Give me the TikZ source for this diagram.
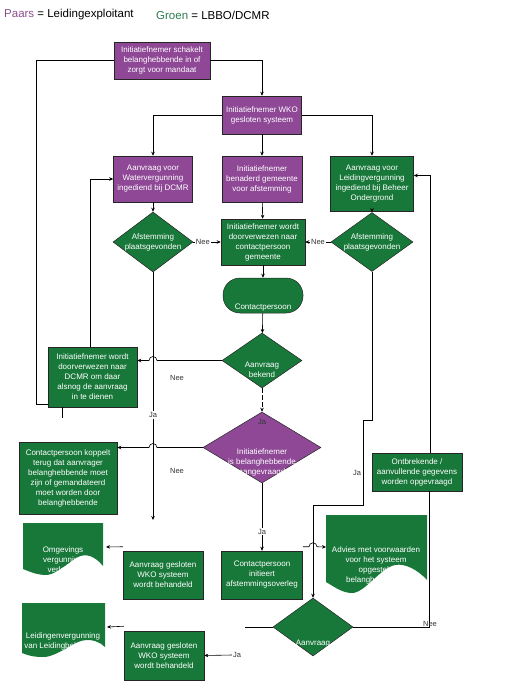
\documentclass[tikz,border=0pt]{standalone}
\usepackage{fontspec}
\setmainfont{Liberation Sans}
\usetikzlibrary{shapes.geometric,arrows.meta,calc}

\definecolor{paars}{RGB}{142,72,150}
\definecolor{groen}{RGB}{24,120,58}
\definecolor{paarstekst}{RGB}{139,80,140}
\definecolor{groentekst}{RGB}{46,123,78}

\tikzset{
  box/.style={draw=black!85, line width=0.5pt, text=white, align=center, inner sep=1pt,
    font=\fontsize{8}{10}\selectfont},
  paarsbox/.style={box, fill=paars},
  groenbox/.style={box, fill=groen},
  keuze/.style={box, diamond, inner sep=0pt},
  tekst/.style={text=white, align=center, inner sep=0pt, font=\fontsize{8}{10}\selectfont},
  lijn/.style={line width=0.6pt},
  pijl/.style={lijn, -{Stealth[length=4pt,width=3.5pt]}},
  tag/.style={font=\fontsize{7.5}{8}\selectfont, text=black!80, inner sep=1pt},
}

\begin{document}
\begin{tikzpicture}[x=1pt,y=-1pt]
        \useasboundingbox (0,0) rectangle (531,688);

        % Legenda
        \node[anchor=west, font=\fontsize{11.5}{13}\selectfont, inner sep=0pt] (legendaP) at (4,15) {\textcolor{paarstekst}{Paars} = Leidingexploitant};
        \node[anchor=west, font=\fontsize{11.5}{13}\selectfont, inner sep=0pt] (legendaG) at (156,15) {\textcolor{groentekst}{Groen} = LBBO/DCMR};

        % Bovenste blokken
        \node[paarsbox, minimum width=96pt, minimum height=37pt] (mandaat) at (162,60.5) {Initiatiefnemer schakelt\\belanghebbende in of\\zorgt voor mandaat};
        \node[paarsbox, minimum width=79pt, minimum height=38pt] (wko) at (262,115) {Initiatiefnemer WKO\\gesloten systeem};
        \node[paarsbox, minimum width=79pt, minimum height=46pt] (waterverg) at (153,179) {Aanvraag voor\\Watervergunning\\ingediend bij DCMR};
        \node[paarsbox, minimum width=80pt, minimum height=46pt] (gemeente) at (262,179) {Initiatiefnemer\\benaderd gemeente\\voor afstemming};
        \node[groenbox, minimum width=83pt, minimum height=55pt] (leidingverg) at (372,183.5) {Aanvraag voor\\Leidingvergunning\\ingediend bij Beheer\\Ondergrond};

        % Afstemming
        \node[keuze, fill=groen, minimum width=80pt, minimum height=60pt] (afstemW) at (153,242) {};
        \node[tekst] (afstemWTekst) at (153,242) {Afstemming\\plaatsgevonden};
        \node[groenbox, minimum width=84pt, minimum height=46pt] (doorverwGem) at (263,242) {Initiatiefnemer wordt\\doorverwezen naar\\contactpersoon\\gemeente};
        \node[keuze, fill=groen, minimum width=82pt, minimum height=59pt] (afstemL) at (372,242) {};
        \node[tekst] (afstemLTekst) at (372,242) {Afstemming\\plaatsgevonden};

        % Contactpersoon en keuzes
        \node[groenbox, rounded corners=17pt, minimum width=80pt, minimum height=35pt] (contact) at (263,295.5) {};
        \node[tekst] (contactTekst) at (263,308) {Contactpersoon};
        \node[keuze, fill=groen, minimum width=80pt, minimum height=55pt] (bekend) at (262,360.5) {};
        \node[tekst] (bekendTekst) at (262,370) {Aanvraag\\bekend};
        \node[groenbox, minimum width=89pt, minimum height=60pt] (doorverwDCMR) at (92.5,377) {Initiatiefnemer wordt\\doorverwezen naar\\DCMR om daar\\alsnog de aanvraag\\in te dienen};
        \node[keuze, fill=paars, minimum width=118pt, minimum height=71pt] (belang) at (262,447.5) {};
        \node[tekst] (belangTekst) at (262,462) {Initiatiefnemer\\is belanghebbende\\aangevraagd};
        \node[groenbox, minimum width=98pt, minimum height=72pt] (koppelt) at (68,478) {Contactpersoon koppelt\\terug dat aanvrager\\belanghebbende moet\\zijn of gemandateerd\\moet worden door\\belanghebbende};
        \node[groenbox, minimum width=90pt, minimum height=38pt] (ontbrekend) at (417,472) {Ontbrekende /\\aanvullende gegevens\\worden opgevraagd};

        % Onderste blokken
        \node[groenbox, minimum width=80pt, minimum height=48pt] (behandeldW) at (163,575) {Aanvraag gesloten\\WKO systeem\\wordt behandeld};
        \node[groenbox, minimum width=81pt, minimum height=48pt] (overleg) at (262,575) {Contactpersoon\\initieert\\afstemmingsoverleg};
        \node[keuze, fill=groen, minimum width=80pt, minimum height=58pt] (compleet) at (313,627) {};
        \node[tekst] (compleetTekst) at (313,644) {Aanvraag};
        \node[groenbox, minimum width=80pt, minimum height=49pt] (behandeldL) at (164,655.5) {Aanvraag gesloten\\WKO systeem\\wordt behandeld};

        % Documenten
        \fill[groen] (23,523) -- (103,523) -- (103,566) .. controls (95,556) and (86,553) .. (78,557) .. controls (66,564) and (55,576) .. (44,575) .. controls (34,574) and (28,571) .. (23,569) -- cycle;
        \fill[groen] (22,603) -- (105,603) -- (105,647) .. controls (97,640) and (88,638) .. (78,642) .. controls (66,648) and (52,658) .. (42,657) .. controls (33,657) and (27,655) .. (22,653) -- cycle;
        \fill[groen] (326,515) -- (427,515) -- (427,580) .. controls (418,570) and (405,563) .. (395,565) .. controls (380,568) and (365,593) .. (352,593) .. controls (342,593) and (333,586) .. (326,582) -- cycle;
        \node[tekst] (omgeving) at (63,560) {Omgevings\\vergunning\\verleend};
        \node[tekst] (leidingen) at (63,641) {Leidingenvergunning\\van Leidingbeheerder};
        \node[tekst] (advies) at (376,565) {Advies met voorwaarden\\voor het systeem\\opgesteld\\belanghebbende};

        % Vrije eindpunten
        \coordinate (eindW) at (153,520);
        \coordinate (omgevingR) at (106,547);
        \coordinate (leidingenR) at (107,627);
        \coordinate (adviesL) at (326,547);
        \coordinate (stubL) at (245,627);
        \coordinate (stubDCMR) at (62,418);
        \coordinate (adviesStart) at ([yshift=4pt]overleg.north east);

        % Verbindingen boven
        \draw[pijl] (mandaat.east) -| (wko.north);
        \draw[pijl] (wko.west) -| (waterverg.north);
        \draw[pijl] (wko.east) -| (leidingverg.north);
        \draw[pijl] (wko) -- (gemeente);
        \draw[pijl] (waterverg) -- (afstemW);
        \draw[pijl] (gemeente) -- (doorverwGem);
        \draw[pijl] (leidingverg) -- (afstemL);
        \draw[pijl] (afstemW.east) -- node[tag, fill=white, pos=0.35] (neeW) {Nee} (doorverwGem.west);
        \draw[pijl] (afstemL.west) -- node[tag, fill=white, pos=0.5] (neeL) {Nee} (doorverwGem.east);
        \draw[pijl] (doorverwGem) -- (contact);
        \draw[pijl] (contact) -- (bekend);

        % Keuze aanvraag bekend
        \draw[pijl, dash pattern=on 5pt off 2pt] (bekend.south) -- (belang.north);
        \node[tag] (jaBekend) at (262,422) {Ja};
        \draw[pijl] (bekend.west) -- ($(bekend.west -| afstemW.south)+(4,0)$) arc[start angle=0, end angle=180, radius=4pt] -- (bekend.west -| doorverwDCMR.east);
        \node[tag] (neeBekend) at (177,378) {Nee};
        \draw[pijl] (afstemW.south) -- (eindW);
        \node[tag, fill=white] (jaAfstemW) at (153,415) {Ja};

        % Terug naar DCMR
        \draw[pijl] ([xshift=-2.5pt]doorverwDCMR.north) |- (waterverg.west);
        \draw[lijn] ([yshift=3pt]doorverwDCMR.south west) -- ++(-11,0) |- (mandaat.west);
        \draw[lijn] (doorverwDCMR.south -| stubDCMR) -- (stubDCMR);

        % Keuze belanghebbende
        \draw[pijl] (belang.west) -- ($(belang.west -| afstemW.south)+(4,0)$) arc[start angle=0, end angle=180, radius=4pt] -- (belang.west -| koppelt.east);
        \node[tag] (neeBelang) at (177,471) {Nee};
        \draw[pijl] (belang.south) -- node[tag, fill=white, pos=0.72] (jaBelang) {Ja} (overleg.north);

        % Leidingvergunning naar aanvraag compleet
        \draw[pijl] (afstemL.south) |- (363,420) -- (363,505) -| (compleet.north);
        \node[tag] (jaAfstemL) at (357,473) {Ja};
        \draw[pijl] (adviesStart) -- ($(adviesStart -| compleet.north)+(-4,0)$) arc[start angle=180, end angle=0, radius=4pt] -- (adviesL);
        \draw[lijn] (compleet.east) -| ([xshift=12pt]ontbrekend.south);
        \node[tag] (neeCompleet) at (430,624) {Nee};
        \draw[pijl] ([xshift=13pt]ontbrekend.north) |- ([yshift=8pt]leidingverg.east);
        \draw[lijn] (compleet.west) -- (stubL);
        \node[tag] (jaCompleet) at (237,655) {Ja};
        \draw[pijl] (jaCompleet.west) -- (behandeldL.east);

        % Naar de vergunningen
        \draw[pijl] ([yshift=4pt]behandeldW.north west) -- (omgevingR);
        \draw[pijl] ([yshift=4.5pt]behandeldL.north west) -- (leidingenR);
    \end{tikzpicture}
\end{document}
